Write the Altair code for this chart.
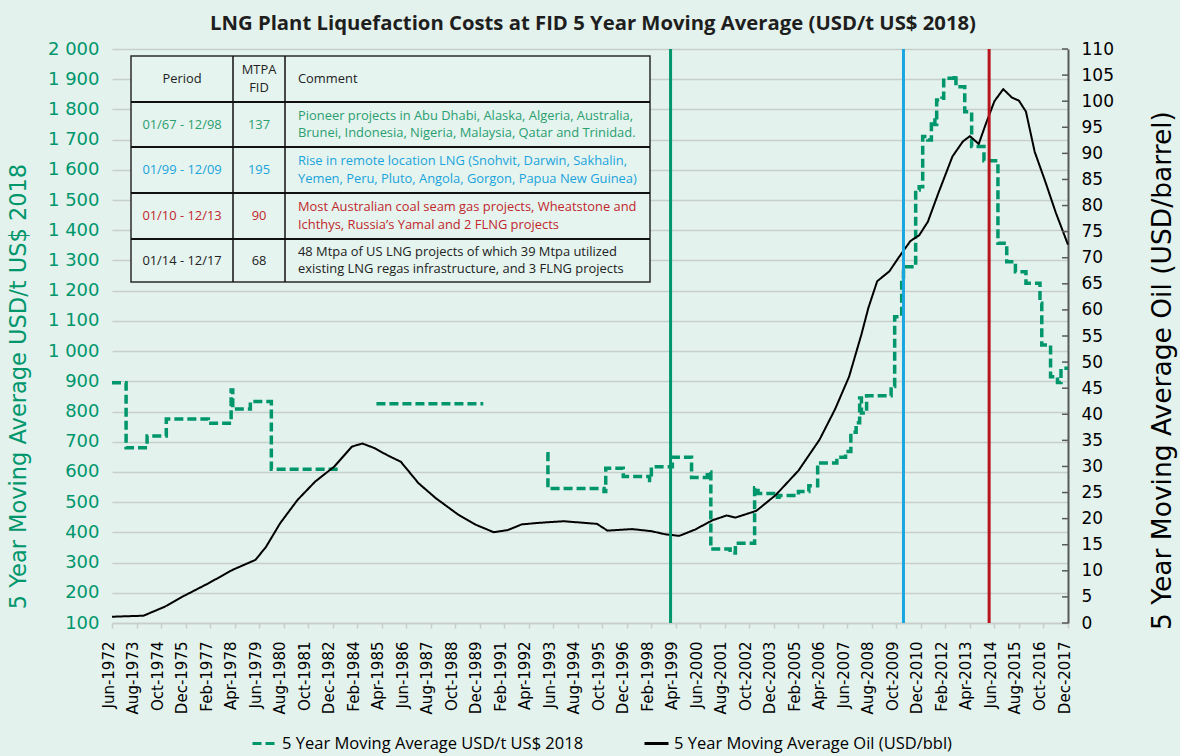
import altair as alt
import pandas as pd

# ---------------- data ----------------
CHART_TITLE = "LNG Plant Liquefaction Costs at FID 5 Year Moving Average (USD/t US$ 2018)"
COST_LABEL = "5 Year Moving Average USD/t US$ 2018"
OIL_LABEL = "5 Year Moving Average Oil (USD/bbl)"

# Liquefaction cost at FID, 5-year moving average (USD/t, US$ 2018).
# Change points of a stepped series, split into the runs that carry data.
cost_run1_dates = ["1972-06", "1973-02", "1974-02", "1975-01", "1977-01", "1978-02",
                   "1978-03", "1979-01", "1980-01", "1983-03"]
cost_run1_values = [895, 680, 719, 775, 761, 871, 808, 833, 609, 609]

cost_run2_dates = ["1985-01", "1990-02"]
cost_run2_values = [826, 826]

cost_run3_dates = ["1993-02", "1993-03", "1995-11", "1995-12", "1996-10", "1998-01",
                   "1998-02", "1999-02", "2000-01", "2000-10", "2000-12", "2001-11",
                   "2002-02", "2003-01", "2003-03", "2004-02", "2004-03", "2005-02",
                   "2005-08", "2006-01", "2006-12", "2007-05", "2007-08", "2007-11",
                   "2008-01", "2008-02", "2008-05", "2009-07", "2009-09", "2010-01",
                   "2010-02", "2010-09", "2010-11", "2011-01", "2011-04", "2011-06",
                   "2011-08", "2011-09", "2011-12", "2012-01", "2012-07", "2012-08",
                   "2013-01", "2013-05", "2013-12", "2014-08", "2015-01", "2015-06",
                   "2015-12", "2016-08", "2016-09", "2017-02", "2017-06", "2017-08",
                   "2017-12"]
cost_run3_values = [660, 545, 535, 612, 585, 572,
                    617, 649, 582, 600, 345, 332,
                    364, 548, 529, 516, 522, 535,
                    554, 630, 649, 668, 731, 763,
                    845, 795, 852, 883, 1114, 1235,
                    1279, 1533, 1544, 1710, 1699, 1765,
                    1750, 1831, 1837, 1903, 1914, 1875,
                    1792, 1677, 1630, 1357, 1296, 1263,
                    1225, 1158, 1020, 915, 896, 943,
                    943]

# Oil price, 5-year moving average (USD/bbl)
oil_dates = ["1972-06", "1973-12", "1974-12", "1975-10", "1977-01", "1978-03", "1979-04",
             "1979-10", "1980-06", "1981-04", "1982-02", "1983-01", "1983-11", "1984-05",
             "1984-12", "1985-07", "1986-03", "1987-01", "1987-11", "1988-12", "1989-10",
             "1990-08", "1991-04", "1991-12", "1992-10", "1993-12", "1995-07", "1996-01",
             "1997-03", "1998-02", "1998-10", "1999-06", "2000-03", "2001-01", "2001-09",
             "2002-02", "2003-02", "2004-01", "2005-02", "2006-02", "2006-11", "2007-07",
             "2008-02", "2008-06", "2008-11", "2009-06", "2009-11", "2010-06", "2010-11",
             "2011-04", "2011-10", "2012-06", "2012-12", "2013-04", "2013-09", "2014-01",
             "2014-06", "2014-11", "2015-04", "2015-08", "2015-12", "2016-05", "2016-11",
             "2017-05", "2017-12"]
oil_values = [1.2, 1.4, 3.1, 5.0, 7.6, 10.2, 12.1,
              14.6, 19.1, 23.6, 27.1, 30.0, 33.8, 34.4,
              33.5, 32.2, 30.9, 26.8, 23.9, 20.7, 18.8,
              17.4, 17.8, 18.9, 19.2, 19.5, 19.0, 17.7,
              18.0, 17.6, 17.0, 16.7, 17.9, 19.7, 20.6,
              20.2, 21.5, 24.5, 29.2, 35.1, 41.0, 47.2,
              55.3, 60.4, 65.5, 67.4, 69.9, 73.2, 74.3,
              76.9, 82.4, 89.4, 92.3, 93.3, 91.8, 95.6,
              100.0, 102.3, 100.7, 100.1, 98.0, 90.3, 84.6,
              78.7, 72.5]

# FID period boundaries drawn as vertical lines
fid_line_dates = ["1999-01", "2010-02", "2014-03"]

# Summary table
table_header = ["Period", "MTPA\nFID", "Comment"]
table_periods = ["01/67 - 12/98", "01/99 - 12/09", "01/10 - 12/13", "01/14 - 12/17"]
table_mtpa = ["137", "195", "90", "68"]
table_comments = [
    "Pioneer projects in Abu Dhabi, Alaska, Algeria, Australia,\n"
    "Brunei, Indonesia, Nigeria, Malaysia, Qatar and Trinidad.",
    "Rise in remote location LNG (Snohvit, Darwin, Sakhalin,\n"
    "Yemen, Peru, Pluto, Angola, Gorgon, Papua New Guinea)",
    "Most Australian coal seam gas projects, Wheatstone and\n"
    "Ichthys, Russia\u2019s Yamal and 2 FLNG projects",
    "48 Mtpa of US LNG projects of which 39 Mtpa utilized\n"
    "existing LNG regas infrastructure, and 3 FLNG projects",
]

# Axis ticks
x_tick_labels = ["Jun-1972", "Aug-1973", "Oct-1974", "Dec-1975", "Feb-1977", "Apr-1978",
                 "Jun-1979", "Aug-1980", "Oct-1981", "Dec-1982", "Feb-1984", "Apr-1985",
                 "Jun-1986", "Aug-1987", "Oct-1988", "Dec-1989", "Feb-1991", "Apr-1992",
                 "Jun-1993", "Aug-1994", "Oct-1995", "Dec-1996", "Feb-1998", "Apr-1999",
                 "Jun-2000", "Aug-2001", "Oct-2002", "Dec-2003", "Feb-2005", "Apr-2006",
                 "Jun-2007", "Aug-2008", "Oct-2009", "Dec-2010", "Feb-2012", "Apr-2013",
                 "Jun-2014", "Aug-2015", "Oct-2016", "Dec-2017"]
left_ticks = [100, 200, 300, 400, 500, 600, 700, 800, 900, 1000,
              1100, 1200, 1300, 1400, 1500, 1600, 1700, 1800, 1900, 2000]
right_ticks = [0, 5, 10, 15, 20, 25, 30, 35, 40, 45, 50, 55,
               60, 65, 70, 75, 80, 85, 90, 95, 100, 105, 110]

# ---------------- styles ----------------
BG = "#E3F2EC"
GREEN = "#00966C"
GRID = "#C7CFCB"
W, H = 956, 574
LABEL_FONT = "DejaVu Sans"
TEXT_FONT = "Open Sans"
TABLE_FS = 12.9
TABLE_LH = 17.7

MONTHS = {m: i + 1 for i, m in enumerate(
    ["Jan", "Feb", "Mar", "Apr", "May", "Jun", "Jul", "Aug", "Sep", "Oct", "Nov", "Dec"])}


def utc_month(year, month):
    return alt.DateTime(year=year, month=month, date=1, utc=True)


x_values = [utc_month(int(s[4:]), MONTHS[s[:3]]) for s in x_tick_labels]

# ---------------- frames ----------------
cost_rows = []
for run, (dates, vals) in enumerate([(cost_run1_dates, cost_run1_values),
                                     (cost_run2_dates, cost_run2_values),
                                     (cost_run3_dates, cost_run3_values)], start=1):
    for d, v in zip(dates, vals):
        cost_rows.append({"date": d + "-01", "cost": v, "run": run, "series": COST_LABEL})
cost_df = pd.DataFrame(cost_rows)

oil_df = pd.DataFrame({"date": [d + "-01" for d in oil_dates], "oil": oil_values,
                       "series": OIL_LABEL})
oil_tick_df = pd.DataFrame({"oil": right_ticks})

# ---------------- encodings ----------------
x_enc = alt.X(
    "date:T", title=None,
    scale=alt.Scale(type="utc", domain=[utc_month(1972, 6), utc_month(2017, 12)]),
    axis=alt.Axis(values=x_values, format="%b-%Y", labelAngle=270, labelAlign="right",
                  labelBaseline="middle", labelOffset=-4, labelPadding=13,
                  labelFont=LABEL_FONT, labelFontSize=15, labelColor="#000000",
                  labelFlush=False, labelOverlap=False, grid=False,
                  domainColor=GRID, domainWidth=1.5, tickColor=GRID, tickWidth=1.5,
                  tickSize=5),
)

color_enc = alt.Color("series:N", title=None,
                      scale=alt.Scale(domain=[COST_LABEL, OIL_LABEL], range=[GREEN, "#000000"]))
dash_enc = alt.StrokeDash("series:N", title=None,
                          scale=alt.Scale(domain=[COST_LABEL, OIL_LABEL], range=[[9, 4], [1, 0]]))

y_cost = alt.Y(
    "cost:Q",
    scale=alt.Scale(domain=[100, 2000], nice=False, zero=False),
    axis=alt.Axis(values=left_ticks, title=COST_LABEL, orient="left",
                  labelExpr="datum.value >= 1000 ? replace(format(datum.value, ','), ',', ' ') : format(datum.value, 'd')",
                  labelFont=LABEL_FONT, labelFontSize=18, labelColor=GREEN, labelPadding=13,
                  domain=False, ticks=False, grid=True, gridColor=GRID, gridWidth=1.5,
                  titleFont=LABEL_FONT, titleFontSize=22.5, titleFontWeight="normal",
                  titleColor=GREEN, titleAngle=270, titleX=-94, titleY=337,
                  titleAlign="center", titleBaseline="middle"),
)

y_oil = alt.Y(
    "oil:Q",
    scale=alt.Scale(domain=[0, 110], nice=False, zero=True),
    axis=alt.Axis(values=right_ticks, title="5 Year Moving Average Oil (USD/barrel)",
                  orient="right", labelFont=LABEL_FONT, labelFontSize=17,
                  labelColor="#000000", labelPadding=13, domain=True,
                  domainColor="#595959", domainWidth=2, ticks=False, grid=False,
                  titleFont=LABEL_FONT, titleFontSize=26.5, titleFontWeight="normal",
                  titleColor="#000000", titleAngle=270, titleX=94, titleY=321,
                  titleAlign="center", titleBaseline="middle"),
)

# ---------------- layers ----------------
cost_layer = alt.Chart(cost_df).mark_line(
    interpolate="step-after", strokeWidth=3.5
).encode(x=x_enc, y=y_cost, color=color_enc, strokeDash=dash_enc, detail="run:N")

oil_line = alt.Chart(oil_df).mark_line(strokeWidth=2, strokeJoin="round").encode(
    x=x_enc, y=y_oil, color=color_enc, strokeDash=dash_enc)

# inward-pointing ticks on the right-hand axis
oil_ticks = alt.Chart(oil_tick_df).mark_rule(color="#595959", strokeWidth=1.5).encode(
    x=alt.value(W - 6), x2=alt.value(W), y=y_oil)

oil_group = alt.layer(oil_line, oil_ticks)

fid_colors = [GREEN, "#1AA6DE", "#B7141C"]
rule_layers = []
for d, c in zip(fid_line_dates, fid_colors):
    rule_layers.append(
        alt.Chart(pd.DataFrame({"date": [d + "-01"]})).mark_rule(color=c, strokeWidth=3)
        .encode(x=x_enc)
    )

one = pd.DataFrame({"k": [0]})

# chart title, centred over the plot area
title_layer = alt.Chart(pd.DataFrame({"t": [CHART_TITLE]})).mark_text(
    font=TEXT_FONT, fontSize=20.3, fontWeight=700, color="#1E1E1E",
    align="center", baseline="alphabetic"
).encode(x=alt.value(W / 2 + 3), y=alt.value(-19.5), text="t:N")

# summary table (pixel layout inside the plot area)
col_edges = [19, 121, 173, 538]
row_edges = [7, 53, 98, 144, 190, 233]
row_colors = ["#2A9E6F", "#1AA3DC", "#C1272D", "#222222"]

table_layers = [
    alt.Chart(one).mark_rect(fill="#E5F4EF", stroke="#2B2B2B", strokeWidth=1.5).encode(
        x=alt.value(col_edges[0]), x2=alt.value(col_edges[-1]),
        y=alt.value(row_edges[0]), y2=alt.value(row_edges[-1]))
]
for ry in row_edges[1:-1]:
    table_layers.append(
        alt.Chart(one).mark_rule(color="#111111", strokeWidth=2).encode(
            x=alt.value(col_edges[0]), x2=alt.value(col_edges[-1]), y=alt.value(ry)))
for cx in col_edges[1:-1]:
    table_layers.append(
        alt.Chart(one).mark_rule(color="#111111", strokeWidth=1.5).encode(
            x=alt.value(cx), y=alt.value(row_edges[0]), y2=alt.value(row_edges[-1])))


def cell(text, x, y_mid, color, align):
    # first line placed so that the whole block is centred on y_mid
    n_lines = text.count("\n") + 1
    y_first = y_mid - (n_lines - 1) * TABLE_LH / 2
    return alt.Chart(pd.DataFrame({"t": [text]})).mark_text(
        font=TEXT_FONT, fontSize=TABLE_FS, color=color, align=align, baseline="middle",
        lineBreak="\n", lineHeight=TABLE_LH
    ).encode(x=alt.value(x), y=alt.value(y_first), text="t:N")


period_x = (col_edges[0] + col_edges[1]) / 2
mtpa_x = (col_edges[1] + col_edges[2]) / 2
comment_x = col_edges[2] + 13
rows = [(table_header[0], table_header[1], table_header[2], "#222222")] + [
    (p, m, c, col) for p, m, c, col in zip(table_periods, table_mtpa, table_comments, row_colors)]
for i, (p, m, c, col) in enumerate(rows):
    yc = (row_edges[i] + row_edges[i + 1]) / 2
    table_layers.append(cell(p, period_x, yc, col, "center"))
    table_layers.append(cell(m, mtpa_x, yc, col, "center"))
    table_layers.append(cell(c, comment_x, yc, col, "left"))

chart = alt.layer(
    cost_layer, oil_group, *rule_layers, title_layer, *table_layers
).resolve_scale(
    y="independent"
).properties(
    width=W, height=H,
    autosize=alt.AutoSizeParams(type="none"),
    padding={"left": 112, "top": 49, "right": 112, "bottom": 133},
).configure(
    background=BG
).configure_view(
    stroke="transparent"
).configure_legend(
    orient="none", legendX=139, legendY=681, direction="horizontal",
    symbolType="stroke", symbolSize=576, symbolStrokeWidth=3,
    labelFont=TEXT_FONT, labelFontSize=16.5, labelColor="#000000", labelLimit=500,
    columnPadding=54, labelOffset=4, padding=0,
)

chart.save("out.html", embed_options={"renderer": "svg", "actions": False})
